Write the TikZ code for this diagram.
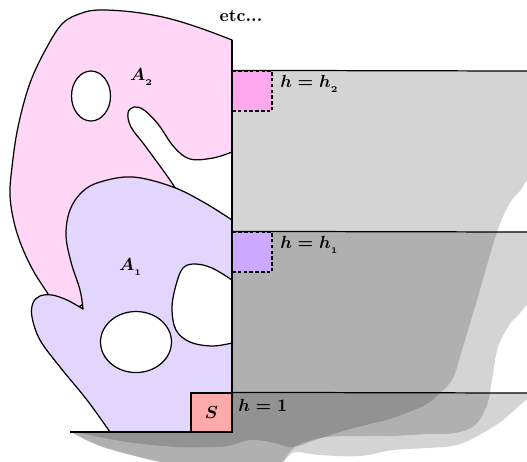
\documentclass[tikz,border=0pt]{standalone}
\usepackage{amsmath}
\definecolor{pinkA}{RGB}{255,214,245}
\definecolor{lavA}{RGB}{226,214,255}
\definecolor{pinkSq}{RGB}{255,168,238}
\definecolor{lavSq}{RGB}{204,170,255}
\definecolor{sCol}{RGB}{255,170,170}
\begin{document}
\begin{tikzpicture}[x=0.02cm,y=-0.02cm, line width=0.7pt,
  shadow/.style={fill=black, fill opacity=0.17},
  blob/.style={draw=black, line join=round},
  lbl/.style={font=\boldmath, inner sep=1pt},
  hsq/.style={draw=black, dash pattern=on 2pt off 1.3pt, minimum size=0.8cm, inner sep=0pt},
  sbox/.style={draw=black, fill=sCol, minimum width=0.82cm, minimum height=0.78cm, inner sep=0pt, font=\boldmath}
]
\useasboundingbox (0,0) rectangle (527,461);

% translucent shadows
\begin{scope}
\clip (0,0) rectangle (527,461);
% C (h = h2)
\fill[shadow] (232,71) -- (535,71) -- (535,165)
  -- plot[smooth, tension=0.6] coordinates {(535,165) (522,188) (510,203) (497,232) (477,300) (462,350) (453,378) (440,393) (425,405) (393,418) (370,424) (343,431) (315,440) (293,447) (270,442) (250,440) (228,446) (210,447) (177,447) (127,442) (75,432)}
  -- (232,432) -- cycle;
% B (h = h1)
\fill[shadow] (232,232) -- (535,232) -- (535,295)
  -- plot[smooth, tension=0.6] coordinates {(535,295) (520,313) (510,324) (498,347) (492,380) (487,405) (475,425) (455,433) (427,434) (393,436) (370,436) (327,437) (300,444) (290,452) (278,465) (250,472) (200,468) (160,462) (103,447) (73,433)}
  -- (232,432) -- cycle;
% A (h = 1)
\fill[shadow] (232,393) -- (535,393)
  -- plot[smooth, tension=0.6] coordinates {(535,393) (520,405) (503,420) (483,433) (457,445) (427,448) (393,450) (360,456) (320,455) (295,452) (285,460) (270,472) (200,470) (160,462) (103,447) (73,433)}
  -- (232,432) -- cycle;
\end{scope}

% A2 (pink)
\path[blob, fill=pinkA] (232,40) -- (232,152)
  -- plot[smooth, tension=0.6] coordinates {(232,152) (213,158) (190,159) (174,147) (158,124) (144,110) (134,107) (128,113) (131,127) (146,147) (172,183) (188,210)}
  -- (120,280) -- (62,318)
  -- plot[smooth, tension=0.6] coordinates {(62,318) (50,297) (34,272) (22,247) (14,222) (10,195) (12,167) (18,127) (30,83) (47,47) (63,23) (82,13) (100,10) (133,12) (167,18) (200,28) (232,40)}
  -- cycle;
\path[fill=white, draw=black] (91,96) ellipse [x radius=19.5, y radius=25];

% A1 (lavender)
\path[blob, fill=lavA] (232,220) -- (232,280)
  -- plot[smooth, tension=0.6] coordinates {(232,280) (212,268) (195,264) (183,268) (176,285) (172,308) (176,330) (190,342) (212,346) (232,343)}
  -- (232,432) -- (110,432)
  -- plot[smooth, tension=0.6] coordinates {(110,432) (87,400) (60,367) (40,340) (32,317) (33,303) (40,296) (52,295) (67,300) (83,309)}
  -- plot[smooth, tension=0.6] coordinates {(83,309) (80,290) (71,262) (66,235) (70,210) (82,192) (100,182) (133,177) (173,187) (205,203) (232,220)}
  -- cycle;
\path[fill=white, draw=black] (136,342) ellipse [x radius=35.5, y radius=30.5];

% squares
\node[hsq, fill=pinkSq] (sq2) at (252,91) {};
\node[hsq, fill=lavSq] (sq1) at (252,252) {};
\node[sbox] (S) at (211.5,412.5) {$S$};

% lines
\coordinate (e2) at (527,71);
\coordinate (e1) at (527,232);
\coordinate (e0) at (527,393);
\coordinate (top) at (232,40);
\coordinate (bot) at (232,432);
\coordinate (bl) at (70,432);
\draw (sq2.north west) -- (e2);
\draw (sq1.north west) -- (e1);
\draw (S.north east) -- (e0);
\draw (bl) -- (bot);
\draw (top) -- (bot);

% labels
\node[font=\bfseries] (etc) at (241,16) {etc...};
\node[lbl, anchor=west] (l2) at (278,84) {$h = h_{_2}$};
\node[lbl, anchor=west] (l1) at (278,245) {$h = h_{_1}$};
\node[lbl, anchor=west] (l0) at (236,405) {$h = 1$};
\node[lbl] (a2) at (142,77) {$A_{_2}$};
\node[lbl] (a1) at (131,267) {$A_{_1}$};
\end{tikzpicture}
\end{document}
